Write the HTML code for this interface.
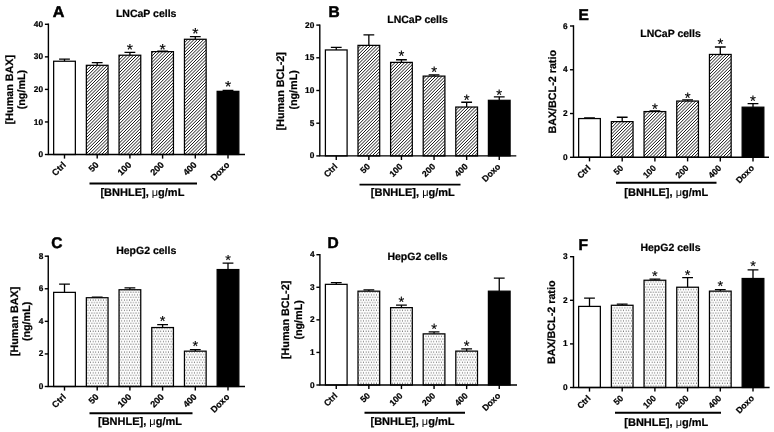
<!DOCTYPE html>
<html lang="en"><head><meta charset="utf-8"><title>Figure</title>
<style>html,body{margin:0;padding:0;background:#fff;}svg{display:block;}</style>
</head><body>
<svg width="774" height="432" viewBox="0 0 774 432" font-family='"Liberation Sans", Arial, Helvetica, sans-serif' font-weight="bold" fill="#000">
<style>text{text-rendering:geometricPrecision;stroke:#000;stroke-width:0.22px;paint-order:stroke}.ns{stroke:none}.st{stroke-width:0.15px}.lt{stroke-width:0.5px}</style>
<defs>
<pattern id="dots" width="2.6" height="5.2" patternUnits="userSpaceOnUse"><rect width="2.6" height="5.2" fill="#fff"/><circle cx="0.85" cy="0.95" r="0.55" fill="#333"/><circle cx="2.15" cy="3.55" r="0.55" fill="#333"/></pattern>
</defs>
<rect width="774" height="432" fill="#fff"/>
<g id="panel-A">
<path d="M64.50 61.24V59.13M59.10 59.13H69.90" stroke="#000" stroke-width="1.3" fill="none"/>
<rect x="53.65" y="61.24" width="21.70" height="93.26" fill="#fff" stroke="#000" stroke-width="1.25"/>
<path d="M97.20 65.31V62.71M91.80 62.71H102.60" stroke="#000" stroke-width="1.3" fill="none"/>
<clipPath id="cA1"><rect x="86.35" y="65.31" width="21.70" height="89.19"/></clipPath>
<rect x="86.35" y="65.31" width="21.70" height="89.19" fill="#fff"/>
<path clip-path="url(#cA1)" d="M85.35 65.05L109.05 41.35M85.35 68.25L109.05 44.55M85.35 71.45L109.05 47.75M85.35 74.65L109.05 50.95M85.35 77.85L109.05 54.15M85.35 81.05L109.05 57.35M85.35 84.25L109.05 60.55M85.35 87.45L109.05 63.75M85.35 90.65L109.05 66.95M85.35 93.85L109.05 70.15M85.35 97.05L109.05 73.35M85.35 100.25L109.05 76.55M85.35 103.45L109.05 79.75M85.35 106.65L109.05 82.95M85.35 109.85L109.05 86.15M85.35 113.05L109.05 89.35M85.35 116.25L109.05 92.55M85.35 119.45L109.05 95.75M85.35 122.65L109.05 98.95M85.35 125.85L109.05 102.15M85.35 129.05L109.05 105.35M85.35 132.25L109.05 108.55M85.35 135.45L109.05 111.75M85.35 138.65L109.05 114.95M85.35 141.85L109.05 118.15M85.35 145.05L109.05 121.35M85.35 148.25L109.05 124.55M85.35 151.45L109.05 127.75M85.35 154.65L109.05 130.95M85.35 157.85L109.05 134.15M85.35 161.05L109.05 137.35M85.35 164.25L109.05 140.55M85.35 167.45L109.05 143.75M85.35 170.65L109.05 146.95M85.35 173.85L109.05 150.15M85.35 177.05L109.05 153.35M85.35 180.25L109.05 156.55" stroke="#1a1a1a" stroke-width="1.0" fill="none"/>
<rect x="86.35" y="65.31" width="21.70" height="89.19" fill="none" stroke="#000" stroke-width="1.25"/>
<path d="M129.90 55.22V52.29M124.50 52.29H135.30" stroke="#000" stroke-width="1.3" fill="none"/>
<clipPath id="cA2"><rect x="119.05" y="55.22" width="21.70" height="99.28"/></clipPath>
<rect x="119.05" y="55.22" width="21.70" height="99.28" fill="#fff"/>
<path clip-path="url(#cA2)" d="M118.05 54.75L141.75 31.05M118.05 57.95L141.75 34.25M118.05 61.15L141.75 37.45M118.05 64.35L141.75 40.65M118.05 67.55L141.75 43.85M118.05 70.75L141.75 47.05M118.05 73.95L141.75 50.25M118.05 77.15L141.75 53.45M118.05 80.35L141.75 56.65M118.05 83.55L141.75 59.85M118.05 86.75L141.75 63.05M118.05 89.95L141.75 66.25M118.05 93.15L141.75 69.45M118.05 96.35L141.75 72.65M118.05 99.55L141.75 75.85M118.05 102.75L141.75 79.05M118.05 105.95L141.75 82.25M118.05 109.15L141.75 85.45M118.05 112.35L141.75 88.65M118.05 115.55L141.75 91.85M118.05 118.75L141.75 95.05M118.05 121.95L141.75 98.25M118.05 125.15L141.75 101.45M118.05 128.35L141.75 104.65M118.05 131.55L141.75 107.85M118.05 134.75L141.75 111.05M118.05 137.95L141.75 114.25M118.05 141.15L141.75 117.45M118.05 144.35L141.75 120.65M118.05 147.55L141.75 123.85M118.05 150.75L141.75 127.05M118.05 153.95L141.75 130.25M118.05 157.15L141.75 133.45M118.05 160.35L141.75 136.65M118.05 163.55L141.75 139.85M118.05 166.75L141.75 143.05M118.05 169.95L141.75 146.25M118.05 173.15L141.75 149.45M118.05 176.35L141.75 152.65M118.05 179.55L141.75 155.85" stroke="#1a1a1a" stroke-width="1.0" fill="none"/>
<rect x="119.05" y="55.22" width="21.70" height="99.28" fill="none" stroke="#000" stroke-width="1.25"/>
<text x="129.90" y="55.35" font-size="16" font-weight="normal" class="st" text-anchor="middle">*</text>
<path d="M162.60 51.64V51.15M157.20 51.15H168.00" stroke="#000" stroke-width="1.3" fill="none"/>
<clipPath id="cA3"><rect x="151.75" y="51.64" width="21.70" height="102.86"/></clipPath>
<rect x="151.75" y="51.64" width="21.70" height="102.86" fill="#fff"/>
<path clip-path="url(#cA3)" d="M150.75 50.85L174.45 27.15M150.75 54.05L174.45 30.35M150.75 57.25L174.45 33.55M150.75 60.45L174.45 36.75M150.75 63.65L174.45 39.95M150.75 66.85L174.45 43.15M150.75 70.05L174.45 46.35M150.75 73.25L174.45 49.55M150.75 76.45L174.45 52.75M150.75 79.65L174.45 55.95M150.75 82.85L174.45 59.15M150.75 86.05L174.45 62.35M150.75 89.25L174.45 65.55M150.75 92.45L174.45 68.75M150.75 95.65L174.45 71.95M150.75 98.85L174.45 75.15M150.75 102.05L174.45 78.35M150.75 105.25L174.45 81.55M150.75 108.45L174.45 84.75M150.75 111.65L174.45 87.95M150.75 114.85L174.45 91.15M150.75 118.05L174.45 94.35M150.75 121.25L174.45 97.55M150.75 124.45L174.45 100.75M150.75 127.65L174.45 103.95M150.75 130.85L174.45 107.15M150.75 134.05L174.45 110.35M150.75 137.25L174.45 113.55M150.75 140.45L174.45 116.75M150.75 143.65L174.45 119.95M150.75 146.85L174.45 123.15M150.75 150.05L174.45 126.35M150.75 153.25L174.45 129.55M150.75 156.45L174.45 132.75M150.75 159.65L174.45 135.95M150.75 162.85L174.45 139.15M150.75 166.05L174.45 142.35M150.75 169.25L174.45 145.55M150.75 172.45L174.45 148.75M150.75 175.65L174.45 151.95M150.75 178.85L174.45 155.15" stroke="#1a1a1a" stroke-width="1.0" fill="none"/>
<rect x="151.75" y="51.64" width="21.70" height="102.86" fill="none" stroke="#000" stroke-width="1.25"/>
<text x="162.60" y="54.85" font-size="16" font-weight="normal" class="st" text-anchor="middle">*</text>
<path d="M195.30 39.27V36.67M189.90 36.67H200.70" stroke="#000" stroke-width="1.3" fill="none"/>
<clipPath id="cA4"><rect x="184.45" y="39.27" width="21.70" height="115.23"/></clipPath>
<rect x="184.45" y="39.27" width="21.70" height="115.23" fill="#fff"/>
<path clip-path="url(#cA4)" d="M183.45 37.35L207.15 13.65M183.45 40.55L207.15 16.85M183.45 43.75L207.15 20.05M183.45 46.95L207.15 23.25M183.45 50.15L207.15 26.45M183.45 53.35L207.15 29.65M183.45 56.55L207.15 32.85M183.45 59.75L207.15 36.05M183.45 62.95L207.15 39.25M183.45 66.15L207.15 42.45M183.45 69.35L207.15 45.65M183.45 72.55L207.15 48.85M183.45 75.75L207.15 52.05M183.45 78.95L207.15 55.25M183.45 82.15L207.15 58.45M183.45 85.35L207.15 61.65M183.45 88.55L207.15 64.85M183.45 91.75L207.15 68.05M183.45 94.95L207.15 71.25M183.45 98.15L207.15 74.45M183.45 101.35L207.15 77.65M183.45 104.55L207.15 80.85M183.45 107.75L207.15 84.05M183.45 110.95L207.15 87.25M183.45 114.15L207.15 90.45M183.45 117.35L207.15 93.65M183.45 120.55L207.15 96.85M183.45 123.75L207.15 100.05M183.45 126.95L207.15 103.25M183.45 130.15L207.15 106.45M183.45 133.35L207.15 109.65M183.45 136.55L207.15 112.85M183.45 139.75L207.15 116.05M183.45 142.95L207.15 119.25M183.45 146.15L207.15 122.45M183.45 149.35L207.15 125.65M183.45 152.55L207.15 128.85M183.45 155.75L207.15 132.05M183.45 158.95L207.15 135.25M183.45 162.15L207.15 138.45M183.45 165.35L207.15 141.65M183.45 168.55L207.15 144.85M183.45 171.75L207.15 148.05M183.45 174.95L207.15 151.25M183.45 178.15L207.15 154.45" stroke="#1a1a1a" stroke-width="1.0" fill="none"/>
<rect x="184.45" y="39.27" width="21.70" height="115.23" fill="none" stroke="#000" stroke-width="1.25"/>
<text x="195.30" y="38.60" font-size="16" font-weight="normal" class="st" text-anchor="middle">*</text>
<path d="M228.00 91.35V90.38M222.60 90.38H233.40" stroke="#000" stroke-width="1.3" fill="none"/>
<rect x="217.15" y="91.35" width="21.70" height="63.15" fill="#000" stroke="#000" stroke-width="1.25"/>
<text x="228.00" y="92.35" font-size="16" font-weight="normal" class="st" text-anchor="middle">*</text>
<path d="M48.40 23.60V154.50H245.00" stroke="#000" stroke-width="1.4" fill="none" stroke-linejoin="miter"/>
<path d="M44.90 154.50H48.40" stroke="#000" stroke-width="1.4"/>
<text x="43.00" y="157.05" font-size="8.3" text-anchor="end">0</text>
<path d="M44.90 121.95H48.40" stroke="#000" stroke-width="1.4"/>
<text x="43.00" y="124.50" font-size="8.3" text-anchor="end">10</text>
<path d="M44.90 89.40H48.40" stroke="#000" stroke-width="1.4"/>
<text x="43.00" y="91.95" font-size="8.3" text-anchor="end">20</text>
<path d="M44.90 56.85H48.40" stroke="#000" stroke-width="1.4"/>
<text x="43.00" y="59.40" font-size="8.3" text-anchor="end">30</text>
<path d="M44.90 24.30H48.40" stroke="#000" stroke-width="1.4"/>
<text x="43.00" y="26.85" font-size="8.3" text-anchor="end">40</text>
<path d="M64.50 154.50V158.60" stroke="#000" stroke-width="1.4"/>
<text transform="translate(66.50 165.50) rotate(-45)" font-size="8.95" text-anchor="end">Ctrl</text>
<path d="M97.20 154.50V158.60" stroke="#000" stroke-width="1.4"/>
<text transform="translate(99.20 165.50) rotate(-45)" font-size="8.95" text-anchor="end">50</text>
<path d="M129.90 154.50V158.60" stroke="#000" stroke-width="1.4"/>
<text transform="translate(131.90 165.50) rotate(-45)" font-size="8.95" text-anchor="end">100</text>
<path d="M162.60 154.50V158.60" stroke="#000" stroke-width="1.4"/>
<text transform="translate(164.60 165.50) rotate(-45)" font-size="8.95" text-anchor="end">200</text>
<path d="M195.30 154.50V158.60" stroke="#000" stroke-width="1.4"/>
<text transform="translate(197.30 165.50) rotate(-45)" font-size="8.95" text-anchor="end">400</text>
<path d="M228.00 154.50V158.60" stroke="#000" stroke-width="1.4"/>
<text transform="translate(230.00 165.50) rotate(-45)" font-size="8.95" text-anchor="end">Doxo</text>
<path d="M89.5 183.5H197.0" stroke="#000" stroke-width="1.9"/>
<text x="142.4" y="195.8" font-size="11.0" text-anchor="middle">[BNHLE], <tspan font-weight="normal" class="ns">μ</tspan>g/mL</text>
<text transform="translate(13.4 89.6) rotate(-90)" font-size="10.75" text-anchor="middle">[Human BAX]</text>
<text transform="translate(25.2 89.6) rotate(-90)" font-size="10.75" text-anchor="middle">(ng/mL)</text>
<text x="146.2" y="16.9" font-size="10.5" text-anchor="middle">LNCaP cells</text>
<text class="lt" transform="translate(52.8 16.7) scale(1.04 1)" font-size="15.5">A</text>
</g>
<g id="panel-B">
<path d="M336.25 49.95V47.34M330.85 47.34H341.65" stroke="#000" stroke-width="1.3" fill="none"/>
<rect x="325.40" y="49.95" width="21.70" height="105.95" fill="#fff" stroke="#000" stroke-width="1.25"/>
<path d="M368.85 45.37V34.91M363.45 34.91H374.25" stroke="#000" stroke-width="1.3" fill="none"/>
<clipPath id="cB1"><rect x="358.00" y="45.37" width="21.70" height="110.53"/></clipPath>
<rect x="358.00" y="45.37" width="21.70" height="110.53" fill="#fff"/>
<path clip-path="url(#cB1)" d="M357.00 46.20L380.70 22.50M357.00 49.40L380.70 25.70M357.00 52.60L380.70 28.90M357.00 55.80L380.70 32.10M357.00 59.00L380.70 35.30M357.00 62.20L380.70 38.50M357.00 65.40L380.70 41.70M357.00 68.60L380.70 44.90M357.00 71.80L380.70 48.10M357.00 75.00L380.70 51.30M357.00 78.20L380.70 54.50M357.00 81.40L380.70 57.70M357.00 84.60L380.70 60.90M357.00 87.80L380.70 64.10M357.00 91.00L380.70 67.30M357.00 94.20L380.70 70.50M357.00 97.40L380.70 73.70M357.00 100.60L380.70 76.90M357.00 103.80L380.70 80.10M357.00 107.00L380.70 83.30M357.00 110.20L380.70 86.50M357.00 113.40L380.70 89.70M357.00 116.60L380.70 92.90M357.00 119.80L380.70 96.10M357.00 123.00L380.70 99.30M357.00 126.20L380.70 102.50M357.00 129.40L380.70 105.70M357.00 132.60L380.70 108.90M357.00 135.80L380.70 112.10M357.00 139.00L380.70 115.30M357.00 142.20L380.70 118.50M357.00 145.40L380.70 121.70M357.00 148.60L380.70 124.90M357.00 151.80L380.70 128.10M357.00 155.00L380.70 131.30M357.00 158.20L380.70 134.50M357.00 161.40L380.70 137.70M357.00 164.60L380.70 140.90M357.00 167.80L380.70 144.10M357.00 171.00L380.70 147.30M357.00 174.20L380.70 150.50M357.00 177.40L380.70 153.70M357.00 180.60L380.70 156.90" stroke="#1a1a1a" stroke-width="1.0" fill="none"/>
<rect x="358.00" y="45.37" width="21.70" height="110.53" fill="none" stroke="#000" stroke-width="1.25"/>
<path d="M401.45 62.38V59.76M396.05 59.76H406.85" stroke="#000" stroke-width="1.3" fill="none"/>
<clipPath id="cB2"><rect x="390.60" y="62.38" width="21.70" height="93.52"/></clipPath>
<rect x="390.60" y="62.38" width="21.70" height="93.52" fill="#fff"/>
<path clip-path="url(#cB2)" d="M389.60 61.60L413.30 37.90M389.60 64.80L413.30 41.10M389.60 68.00L413.30 44.30M389.60 71.20L413.30 47.50M389.60 74.40L413.30 50.70M389.60 77.60L413.30 53.90M389.60 80.80L413.30 57.10M389.60 84.00L413.30 60.30M389.60 87.20L413.30 63.50M389.60 90.40L413.30 66.70M389.60 93.60L413.30 69.90M389.60 96.80L413.30 73.10M389.60 100.00L413.30 76.30M389.60 103.20L413.30 79.50M389.60 106.40L413.30 82.70M389.60 109.60L413.30 85.90M389.60 112.80L413.30 89.10M389.60 116.00L413.30 92.30M389.60 119.20L413.30 95.50M389.60 122.40L413.30 98.70M389.60 125.60L413.30 101.90M389.60 128.80L413.30 105.10M389.60 132.00L413.30 108.30M389.60 135.20L413.30 111.50M389.60 138.40L413.30 114.70M389.60 141.60L413.30 117.90M389.60 144.80L413.30 121.10M389.60 148.00L413.30 124.30M389.60 151.20L413.30 127.50M389.60 154.40L413.30 130.70M389.60 157.60L413.30 133.90M389.60 160.80L413.30 137.10M389.60 164.00L413.30 140.30M389.60 167.20L413.30 143.50M389.60 170.40L413.30 146.70M389.60 173.60L413.30 149.90M389.60 176.80L413.30 153.10M389.60 180.00L413.30 156.30" stroke="#1a1a1a" stroke-width="1.0" fill="none"/>
<rect x="390.60" y="62.38" width="21.70" height="93.52" fill="none" stroke="#000" stroke-width="1.25"/>
<text x="401.45" y="61.26" font-size="15" font-weight="normal" class="st" text-anchor="middle">*</text>
<path d="M434.05 76.11V74.93M428.65 74.93H439.45" stroke="#000" stroke-width="1.3" fill="none"/>
<clipPath id="cB3"><rect x="423.20" y="76.11" width="21.70" height="79.79"/></clipPath>
<rect x="423.20" y="76.11" width="21.70" height="79.79" fill="#fff"/>
<path clip-path="url(#cB3)" d="M422.20 77.00L445.90 53.30M422.20 80.20L445.90 56.50M422.20 83.40L445.90 59.70M422.20 86.60L445.90 62.90M422.20 89.80L445.90 66.10M422.20 93.00L445.90 69.30M422.20 96.20L445.90 72.50M422.20 99.40L445.90 75.70M422.20 102.60L445.90 78.90M422.20 105.80L445.90 82.10M422.20 109.00L445.90 85.30M422.20 112.20L445.90 88.50M422.20 115.40L445.90 91.70M422.20 118.60L445.90 94.90M422.20 121.80L445.90 98.10M422.20 125.00L445.90 101.30M422.20 128.20L445.90 104.50M422.20 131.40L445.90 107.70M422.20 134.60L445.90 110.90M422.20 137.80L445.90 114.10M422.20 141.00L445.90 117.30M422.20 144.20L445.90 120.50M422.20 147.40L445.90 123.70M422.20 150.60L445.90 126.90M422.20 153.80L445.90 130.10M422.20 157.00L445.90 133.30M422.20 160.20L445.90 136.50M422.20 163.40L445.90 139.70M422.20 166.60L445.90 142.90M422.20 169.80L445.90 146.10M422.20 173.00L445.90 149.30M422.20 176.20L445.90 152.50M422.20 179.40L445.90 155.70" stroke="#1a1a1a" stroke-width="1.0" fill="none"/>
<rect x="423.20" y="76.11" width="21.70" height="79.79" fill="none" stroke="#000" stroke-width="1.25"/>
<text x="434.05" y="77.46" font-size="15" font-weight="normal" class="st" text-anchor="middle">*</text>
<path d="M466.65 107.05V102.27M461.25 102.27H472.05" stroke="#000" stroke-width="1.3" fill="none"/>
<clipPath id="cB4"><rect x="455.80" y="107.05" width="21.70" height="48.85"/></clipPath>
<rect x="455.80" y="107.05" width="21.70" height="48.85" fill="#fff"/>
<path clip-path="url(#cB4)" d="M454.80 105.20L478.50 81.50M454.80 108.40L478.50 84.70M454.80 111.60L478.50 87.90M454.80 114.80L478.50 91.10M454.80 118.00L478.50 94.30M454.80 121.20L478.50 97.50M454.80 124.40L478.50 100.70M454.80 127.60L478.50 103.90M454.80 130.80L478.50 107.10M454.80 134.00L478.50 110.30M454.80 137.20L478.50 113.50M454.80 140.40L478.50 116.70M454.80 143.60L478.50 119.90M454.80 146.80L478.50 123.10M454.80 150.00L478.50 126.30M454.80 153.20L478.50 129.50M454.80 156.40L478.50 132.70M454.80 159.60L478.50 135.90M454.80 162.80L478.50 139.10M454.80 166.00L478.50 142.30M454.80 169.20L478.50 145.50M454.80 172.40L478.50 148.70M454.80 175.60L478.50 151.90M454.80 178.80L478.50 155.10" stroke="#1a1a1a" stroke-width="1.0" fill="none"/>
<rect x="455.80" y="107.05" width="21.70" height="48.85" fill="none" stroke="#000" stroke-width="1.25"/>
<text x="466.65" y="104.86" font-size="15" font-weight="normal" class="st" text-anchor="middle">*</text>
<path d="M499.25 100.31V96.78M493.85 96.78H504.65" stroke="#000" stroke-width="1.3" fill="none"/>
<rect x="488.40" y="100.31" width="21.70" height="55.59" fill="#000" stroke="#000" stroke-width="1.25"/>
<text x="499.25" y="100.06" font-size="15" font-weight="normal" class="st" text-anchor="middle">*</text>
<path d="M319.80 24.40V155.90H516.30" stroke="#000" stroke-width="1.4" fill="none" stroke-linejoin="miter"/>
<path d="M316.30 155.90H319.80" stroke="#000" stroke-width="1.4"/>
<text x="314.30" y="158.45" font-size="8.3" text-anchor="end">0</text>
<path d="M316.30 123.20H319.80" stroke="#000" stroke-width="1.4"/>
<text x="314.30" y="125.75" font-size="8.3" text-anchor="end">5</text>
<path d="M316.30 90.50H319.80" stroke="#000" stroke-width="1.4"/>
<text x="314.30" y="93.05" font-size="8.3" text-anchor="end">10</text>
<path d="M316.30 57.80H319.80" stroke="#000" stroke-width="1.4"/>
<text x="314.30" y="60.35" font-size="8.3" text-anchor="end">15</text>
<path d="M316.30 25.10H319.80" stroke="#000" stroke-width="1.4"/>
<text x="314.30" y="27.65" font-size="8.3" text-anchor="end">20</text>
<path d="M336.25 155.90V160.00" stroke="#000" stroke-width="1.4"/>
<text transform="translate(338.05 167.10) rotate(-45)" font-size="8.75" text-anchor="end">Ctrl</text>
<path d="M368.85 155.90V160.00" stroke="#000" stroke-width="1.4"/>
<text transform="translate(370.65 167.10) rotate(-45)" font-size="8.75" text-anchor="end">50</text>
<path d="M401.45 155.90V160.00" stroke="#000" stroke-width="1.4"/>
<text transform="translate(403.25 167.10) rotate(-45)" font-size="8.75" text-anchor="end">100</text>
<path d="M434.05 155.90V160.00" stroke="#000" stroke-width="1.4"/>
<text transform="translate(435.85 167.10) rotate(-45)" font-size="8.75" text-anchor="end">200</text>
<path d="M466.65 155.90V160.00" stroke="#000" stroke-width="1.4"/>
<text transform="translate(468.45 167.10) rotate(-45)" font-size="8.75" text-anchor="end">400</text>
<path d="M499.25 155.90V160.00" stroke="#000" stroke-width="1.4"/>
<text transform="translate(501.05 167.10) rotate(-45)" font-size="8.75" text-anchor="end">Doxo</text>
<path d="M359.5 184.6H460.5" stroke="#000" stroke-width="1.9"/>
<text x="412.8" y="196.4" font-size="11.0" text-anchor="middle">[BNHLE], <tspan font-weight="normal" class="ns">μ</tspan>g/mL</text>
<text transform="translate(283.7 91.2) rotate(-90)" font-size="10.75" text-anchor="middle">[Human BCL-2]</text>
<text transform="translate(296.8 89.9) rotate(-90)" font-size="10.75" text-anchor="middle">(ng/mL)</text>
<text x="417.5" y="23.0" font-size="10.5" text-anchor="middle">LNCaP cells</text>
<text class="lt" transform="translate(328.6 16.7) scale(1.0 1)" font-size="15.5">B</text>
</g>
<g id="panel-E">
<path d="M589.50 118.57V118.02M584.10 118.02H594.90" stroke="#000" stroke-width="1.3" fill="none"/>
<rect x="578.65" y="118.57" width="21.70" height="38.73" fill="#fff" stroke="#000" stroke-width="1.25"/>
<path d="M622.20 121.63V117.25M616.80 117.25H627.60" stroke="#000" stroke-width="1.3" fill="none"/>
<clipPath id="cE1"><rect x="611.35" y="121.63" width="21.70" height="35.67"/></clipPath>
<rect x="611.35" y="121.63" width="21.70" height="35.67" fill="#fff"/>
<path clip-path="url(#cE1)" d="M610.35 122.45L634.05 98.75M610.35 125.65L634.05 101.95M610.35 128.85L634.05 105.15M610.35 132.05L634.05 108.35M610.35 135.25L634.05 111.55M610.35 138.45L634.05 114.75M610.35 141.65L634.05 117.95M610.35 144.85L634.05 121.15M610.35 148.05L634.05 124.35M610.35 151.25L634.05 127.55M610.35 154.45L634.05 130.75M610.35 157.65L634.05 133.95M610.35 160.85L634.05 137.15M610.35 164.05L634.05 140.35M610.35 167.25L634.05 143.55M610.35 170.45L634.05 146.75M610.35 173.65L634.05 149.95M610.35 176.85L634.05 153.15M610.35 180.05L634.05 156.35" stroke="#1a1a1a" stroke-width="1.0" fill="none"/>
<rect x="611.35" y="121.63" width="21.70" height="35.67" fill="none" stroke="#000" stroke-width="1.25"/>
<path d="M654.90 111.56V110.91M649.50 110.91H660.30" stroke="#000" stroke-width="1.3" fill="none"/>
<clipPath id="cE2"><rect x="644.05" y="111.56" width="21.70" height="45.74"/></clipPath>
<rect x="644.05" y="111.56" width="21.70" height="45.74" fill="#fff"/>
<path clip-path="url(#cE2)" d="M643.05 112.15L666.75 88.45M643.05 115.35L666.75 91.65M643.05 118.55L666.75 94.85M643.05 121.75L666.75 98.05M643.05 124.95L666.75 101.25M643.05 128.15L666.75 104.45M643.05 131.35L666.75 107.65M643.05 134.55L666.75 110.85M643.05 137.75L666.75 114.05M643.05 140.95L666.75 117.25M643.05 144.15L666.75 120.45M643.05 147.35L666.75 123.65M643.05 150.55L666.75 126.85M643.05 153.75L666.75 130.05M643.05 156.95L666.75 133.25M643.05 160.15L666.75 136.45M643.05 163.35L666.75 139.65M643.05 166.55L666.75 142.85M643.05 169.75L666.75 146.05M643.05 172.95L666.75 149.25M643.05 176.15L666.75 152.45M643.05 179.35L666.75 155.65M643.05 182.55L666.75 158.85" stroke="#1a1a1a" stroke-width="1.0" fill="none"/>
<rect x="644.05" y="111.56" width="21.70" height="45.74" fill="none" stroke="#000" stroke-width="1.25"/>
<text x="654.90" y="113.66" font-size="15" font-weight="normal" class="st" text-anchor="middle">*</text>
<path d="M687.60 101.06V99.97M682.20 99.97H693.00" stroke="#000" stroke-width="1.3" fill="none"/>
<clipPath id="cE3"><rect x="676.75" y="101.06" width="21.70" height="56.24"/></clipPath>
<rect x="676.75" y="101.06" width="21.70" height="56.24" fill="#fff"/>
<path clip-path="url(#cE3)" d="M675.75 101.85L699.45 78.15M675.75 105.05L699.45 81.35M675.75 108.25L699.45 84.55M675.75 111.45L699.45 87.75M675.75 114.65L699.45 90.95M675.75 117.85L699.45 94.15M675.75 121.05L699.45 97.35M675.75 124.25L699.45 100.55M675.75 127.45L699.45 103.75M675.75 130.65L699.45 106.95M675.75 133.85L699.45 110.15M675.75 137.05L699.45 113.35M675.75 140.25L699.45 116.55M675.75 143.45L699.45 119.75M675.75 146.65L699.45 122.95M675.75 149.85L699.45 126.15M675.75 153.05L699.45 129.35M675.75 156.25L699.45 132.55M675.75 159.45L699.45 135.75M675.75 162.65L699.45 138.95M675.75 165.85L699.45 142.15M675.75 169.05L699.45 145.35M675.75 172.25L699.45 148.55M675.75 175.45L699.45 151.75M675.75 178.65L699.45 154.95M675.75 181.85L699.45 158.15" stroke="#1a1a1a" stroke-width="1.0" fill="none"/>
<rect x="676.75" y="101.06" width="21.70" height="56.24" fill="none" stroke="#000" stroke-width="1.25"/>
<text x="687.60" y="102.76" font-size="15" font-weight="normal" class="st" text-anchor="middle">*</text>
<path d="M720.30 54.45V47.01M714.90 47.01H725.70" stroke="#000" stroke-width="1.3" fill="none"/>
<clipPath id="cE4"><rect x="709.45" y="54.45" width="21.70" height="102.85"/></clipPath>
<rect x="709.45" y="54.45" width="21.70" height="102.85" fill="#fff"/>
<path clip-path="url(#cE4)" d="M708.45 53.15L732.15 29.45M708.45 56.35L732.15 32.65M708.45 59.55L732.15 35.85M708.45 62.75L732.15 39.05M708.45 65.95L732.15 42.25M708.45 69.15L732.15 45.45M708.45 72.35L732.15 48.65M708.45 75.55L732.15 51.85M708.45 78.75L732.15 55.05M708.45 81.95L732.15 58.25M708.45 85.15L732.15 61.45M708.45 88.35L732.15 64.65M708.45 91.55L732.15 67.85M708.45 94.75L732.15 71.05M708.45 97.95L732.15 74.25M708.45 101.15L732.15 77.45M708.45 104.35L732.15 80.65M708.45 107.55L732.15 83.85M708.45 110.75L732.15 87.05M708.45 113.95L732.15 90.25M708.45 117.15L732.15 93.45M708.45 120.35L732.15 96.65M708.45 123.55L732.15 99.85M708.45 126.75L732.15 103.05M708.45 129.95L732.15 106.25M708.45 133.15L732.15 109.45M708.45 136.35L732.15 112.65M708.45 139.55L732.15 115.85M708.45 142.75L732.15 119.05M708.45 145.95L732.15 122.25M708.45 149.15L732.15 125.45M708.45 152.35L732.15 128.65M708.45 155.55L732.15 131.85M708.45 158.75L732.15 135.05M708.45 161.95L732.15 138.25M708.45 165.15L732.15 141.45M708.45 168.35L732.15 144.65M708.45 171.55L732.15 147.85M708.45 174.75L732.15 151.05M708.45 177.95L732.15 154.25M708.45 181.15L732.15 157.45" stroke="#1a1a1a" stroke-width="1.0" fill="none"/>
<rect x="709.45" y="54.45" width="21.70" height="102.85" fill="none" stroke="#000" stroke-width="1.25"/>
<text x="720.30" y="49.46" font-size="15" font-weight="normal" class="st" text-anchor="middle">*</text>
<path d="M753.00 107.19V103.69M747.60 103.69H758.40" stroke="#000" stroke-width="1.3" fill="none"/>
<rect x="742.15" y="107.19" width="21.70" height="50.11" fill="#000" stroke="#000" stroke-width="1.25"/>
<text x="753.00" y="105.76" font-size="15" font-weight="normal" class="st" text-anchor="middle">*</text>
<path d="M573.50 25.30V157.30H769.00" stroke="#000" stroke-width="1.4" fill="none" stroke-linejoin="miter"/>
<path d="M570.00 157.30H573.50" stroke="#000" stroke-width="1.4"/>
<text x="567.70" y="159.85" font-size="8.3" text-anchor="end">0</text>
<path d="M570.00 113.53H573.50" stroke="#000" stroke-width="1.4"/>
<text x="567.70" y="116.08" font-size="8.3" text-anchor="end">2</text>
<path d="M570.00 69.77H573.50" stroke="#000" stroke-width="1.4"/>
<text x="567.70" y="72.32" font-size="8.3" text-anchor="end">4</text>
<path d="M570.00 26.00H573.50" stroke="#000" stroke-width="1.4"/>
<text x="567.70" y="28.55" font-size="8.3" text-anchor="end">6</text>
<path d="M589.50 157.30V161.40" stroke="#000" stroke-width="1.4"/>
<text transform="translate(591.15 168.65) rotate(-45)" font-size="8.6" text-anchor="end">Ctrl</text>
<path d="M622.20 157.30V161.40" stroke="#000" stroke-width="1.4"/>
<text transform="translate(623.85 168.65) rotate(-45)" font-size="8.6" text-anchor="end">50</text>
<path d="M654.90 157.30V161.40" stroke="#000" stroke-width="1.4"/>
<text transform="translate(656.55 168.65) rotate(-45)" font-size="8.6" text-anchor="end">100</text>
<path d="M687.60 157.30V161.40" stroke="#000" stroke-width="1.4"/>
<text transform="translate(689.25 168.65) rotate(-45)" font-size="8.6" text-anchor="end">200</text>
<path d="M720.30 157.30V161.40" stroke="#000" stroke-width="1.4"/>
<text transform="translate(721.95 168.65) rotate(-45)" font-size="8.6" text-anchor="end">400</text>
<path d="M753.00 157.30V161.40" stroke="#000" stroke-width="1.4"/>
<text transform="translate(754.65 168.65) rotate(-45)" font-size="8.6" text-anchor="end">Doxo</text>
<path d="M616.0 182.8H716.5" stroke="#000" stroke-width="1.9"/>
<text x="666.3" y="195.8" font-size="11.0" text-anchor="middle">[BNHLE], <tspan font-weight="normal" class="ns">μ</tspan>g/mL</text>
<text transform="translate(555.6 91.8) rotate(-90)" font-size="10.75" text-anchor="middle">BAX/BCL-2 ratio</text>
<text x="670.5" y="36.8" font-size="10.5" text-anchor="middle">LNCaP cells</text>
<text class="lt" transform="translate(578.6 20.4) scale(1.0 1)" font-size="15.5">E</text>
</g>
<g id="panel-C">
<path d="M64.50 292.36V284.21M59.10 284.21H69.90" stroke="#000" stroke-width="1.3" fill="none"/>
<rect x="53.65" y="292.36" width="21.70" height="94.14" fill="#fff" stroke="#000" stroke-width="1.25"/>
<path d="M97.20 297.73V297.08M91.80 297.08H102.60" stroke="#000" stroke-width="1.3" fill="none"/>
<rect x="86.35" y="297.73" width="21.70" height="88.77" fill="url(#dots)" stroke="#000" stroke-width="1.25"/>
<path d="M129.90 289.75V287.96M124.50 287.96H135.30" stroke="#000" stroke-width="1.3" fill="none"/>
<rect x="119.05" y="289.75" width="21.70" height="96.75" fill="url(#dots)" stroke="#000" stroke-width="1.25"/>
<path d="M162.60 327.54V324.61M157.20 324.61H168.00" stroke="#000" stroke-width="1.3" fill="none"/>
<rect x="151.75" y="327.54" width="21.70" height="58.96" fill="url(#dots)" stroke="#000" stroke-width="1.25"/>
<text x="162.60" y="325.99" font-size="14.5" font-weight="normal" class="st" text-anchor="middle">*</text>
<path d="M195.30 351.16V349.69M189.90 349.69H200.70" stroke="#000" stroke-width="1.3" fill="none"/>
<rect x="184.45" y="351.16" width="21.70" height="35.34" fill="url(#dots)" stroke="#000" stroke-width="1.25"/>
<text x="195.30" y="350.79" font-size="14.5" font-weight="normal" class="st" text-anchor="middle">*</text>
<path d="M228.00 269.56V263.20M222.60 263.20H233.40" stroke="#000" stroke-width="1.3" fill="none"/>
<rect x="217.15" y="269.56" width="21.70" height="116.94" fill="#000" stroke="#000" stroke-width="1.25"/>
<text x="228.00" y="264.79" font-size="14.5" font-weight="normal" class="st" text-anchor="middle">*</text>
<path d="M48.25 255.50V386.50H245.00" stroke="#000" stroke-width="1.4" fill="none" stroke-linejoin="miter"/>
<path d="M44.75 386.50H48.25" stroke="#000" stroke-width="1.4"/>
<text x="43.25" y="389.05" font-size="8.3" text-anchor="end">0</text>
<path d="M44.75 353.93H48.25" stroke="#000" stroke-width="1.4"/>
<text x="43.25" y="356.48" font-size="8.3" text-anchor="end">2</text>
<path d="M44.75 321.35H48.25" stroke="#000" stroke-width="1.4"/>
<text x="43.25" y="323.90" font-size="8.3" text-anchor="end">4</text>
<path d="M44.75 288.77H48.25" stroke="#000" stroke-width="1.4"/>
<text x="43.25" y="291.32" font-size="8.3" text-anchor="end">6</text>
<path d="M44.75 256.20H48.25" stroke="#000" stroke-width="1.4"/>
<text x="43.25" y="258.75" font-size="8.3" text-anchor="end">8</text>
<path d="M64.50 386.50V390.60" stroke="#000" stroke-width="1.4"/>
<text transform="translate(66.50 397.50) rotate(-45)" font-size="8.95" text-anchor="end">Ctrl</text>
<path d="M97.20 386.50V390.60" stroke="#000" stroke-width="1.4"/>
<text transform="translate(99.20 397.50) rotate(-45)" font-size="8.95" text-anchor="end">50</text>
<path d="M129.90 386.50V390.60" stroke="#000" stroke-width="1.4"/>
<text transform="translate(131.90 397.50) rotate(-45)" font-size="8.95" text-anchor="end">100</text>
<path d="M162.60 386.50V390.60" stroke="#000" stroke-width="1.4"/>
<text transform="translate(164.60 397.50) rotate(-45)" font-size="8.95" text-anchor="end">200</text>
<path d="M195.30 386.50V390.60" stroke="#000" stroke-width="1.4"/>
<text transform="translate(197.30 397.50) rotate(-45)" font-size="8.95" text-anchor="end">400</text>
<path d="M228.00 386.50V390.60" stroke="#000" stroke-width="1.4"/>
<text transform="translate(230.00 397.50) rotate(-45)" font-size="8.95" text-anchor="end">Doxo</text>
<path d="M89.5 413.2H192.5" stroke="#000" stroke-width="1.9"/>
<text x="140.0" y="425.2" font-size="11.0" text-anchor="middle">[BNHLE], <tspan font-weight="normal" class="ns">μ</tspan>g/mL</text>
<text transform="translate(18.0 321.4) rotate(-90)" font-size="10.75" text-anchor="middle">[Human BAX]</text>
<text transform="translate(30.0 321.4) rotate(-90)" font-size="10.75" text-anchor="middle">(ng/mL)</text>
<text x="146.2" y="253.9" font-size="10.5" text-anchor="middle">HepG2 cells</text>
<text class="lt" transform="translate(51.2 248.1) scale(1.0 1)" font-size="15.5">C</text>
</g>
<g id="panel-D">
<path d="M336.25 284.34V282.71M330.85 282.71H341.65" stroke="#000" stroke-width="1.3" fill="none"/>
<rect x="325.40" y="284.34" width="21.70" height="100.66" fill="#fff" stroke="#000" stroke-width="1.25"/>
<path d="M368.85 291.18V289.88M363.45 289.88H374.25" stroke="#000" stroke-width="1.3" fill="none"/>
<rect x="358.00" y="291.18" width="21.70" height="93.82" fill="url(#dots)" stroke="#000" stroke-width="1.25"/>
<path d="M401.45 307.63V305.19M396.05 305.19H406.85" stroke="#000" stroke-width="1.3" fill="none"/>
<rect x="390.60" y="307.63" width="21.70" height="77.37" fill="url(#dots)" stroke="#000" stroke-width="1.25"/>
<text x="401.45" y="307.36" font-size="14.8" font-weight="normal" class="st" text-anchor="middle">*</text>
<path d="M434.05 333.86V331.90M428.65 331.90H439.45" stroke="#000" stroke-width="1.3" fill="none"/>
<rect x="423.20" y="333.86" width="21.70" height="51.14" fill="url(#dots)" stroke="#000" stroke-width="1.25"/>
<text x="434.05" y="333.56" font-size="14.8" font-weight="normal" class="st" text-anchor="middle">*</text>
<path d="M466.65 351.12V348.84M461.25 348.84H472.05" stroke="#000" stroke-width="1.3" fill="none"/>
<rect x="455.80" y="351.12" width="21.70" height="33.88" fill="url(#dots)" stroke="#000" stroke-width="1.25"/>
<text x="466.65" y="351.06" font-size="14.8" font-weight="normal" class="st" text-anchor="middle">*</text>
<path d="M499.25 291.18V278.15M493.85 278.15H504.65" stroke="#000" stroke-width="1.3" fill="none"/>
<rect x="488.40" y="291.18" width="21.70" height="93.82" fill="#000" stroke="#000" stroke-width="1.25"/>
<path d="M319.90 254.00V385.00H517.00" stroke="#000" stroke-width="1.4" fill="none" stroke-linejoin="miter"/>
<path d="M316.40 385.00H319.90" stroke="#000" stroke-width="1.4"/>
<text x="314.50" y="387.55" font-size="8.3" text-anchor="end">0</text>
<path d="M316.40 352.43H319.90" stroke="#000" stroke-width="1.4"/>
<text x="314.50" y="354.98" font-size="8.3" text-anchor="end">1</text>
<path d="M316.40 319.85H319.90" stroke="#000" stroke-width="1.4"/>
<text x="314.50" y="322.40" font-size="8.3" text-anchor="end">2</text>
<path d="M316.40 287.27H319.90" stroke="#000" stroke-width="1.4"/>
<text x="314.50" y="289.82" font-size="8.3" text-anchor="end">3</text>
<path d="M316.40 254.70H319.90" stroke="#000" stroke-width="1.4"/>
<text x="314.50" y="257.25" font-size="8.3" text-anchor="end">4</text>
<path d="M336.25 385.00V389.10" stroke="#000" stroke-width="1.4"/>
<text transform="translate(338.00 396.25) rotate(-45)" font-size="8.7" text-anchor="end">Ctrl</text>
<path d="M368.85 385.00V389.10" stroke="#000" stroke-width="1.4"/>
<text transform="translate(370.60 396.25) rotate(-45)" font-size="8.7" text-anchor="end">50</text>
<path d="M401.45 385.00V389.10" stroke="#000" stroke-width="1.4"/>
<text transform="translate(403.20 396.25) rotate(-45)" font-size="8.7" text-anchor="end">100</text>
<path d="M434.05 385.00V389.10" stroke="#000" stroke-width="1.4"/>
<text transform="translate(435.80 396.25) rotate(-45)" font-size="8.7" text-anchor="end">200</text>
<path d="M466.65 385.00V389.10" stroke="#000" stroke-width="1.4"/>
<text transform="translate(468.40 396.25) rotate(-45)" font-size="8.7" text-anchor="end">400</text>
<path d="M499.25 385.00V389.10" stroke="#000" stroke-width="1.4"/>
<text transform="translate(501.00 396.25) rotate(-45)" font-size="8.7" text-anchor="end">Doxo</text>
<path d="M364.5 412.8H465.0" stroke="#000" stroke-width="1.9"/>
<text x="412.5" y="425.0" font-size="11.0" text-anchor="middle">[BNHLE], <tspan font-weight="normal" class="ns">μ</tspan>g/mL</text>
<text transform="translate(289.0 319.9) rotate(-90)" font-size="10.75" text-anchor="middle">[Human BCL-2]</text>
<text transform="translate(302.0 319.9) rotate(-90)" font-size="10.75" text-anchor="middle">(ng/mL)</text>
<text x="417.5" y="260.2" font-size="10.5" text-anchor="middle">HepG2 cells</text>
<text class="lt" transform="translate(327.6 248.1) scale(1.0 1)" font-size="15.5">D</text>
</g>
<g id="panel-F">
<path d="M589.50 306.40V298.12M584.10 298.12H594.90" stroke="#000" stroke-width="1.3" fill="none"/>
<rect x="578.65" y="306.40" width="21.70" height="81.10" fill="#fff" stroke="#000" stroke-width="1.25"/>
<path d="M622.20 305.27V304.22M616.80 304.22H627.60" stroke="#000" stroke-width="1.3" fill="none"/>
<rect x="611.35" y="305.27" width="21.70" height="82.23" fill="url(#dots)" stroke="#000" stroke-width="1.25"/>
<path d="M654.90 280.24V279.15M649.50 279.15H660.30" stroke="#000" stroke-width="1.3" fill="none"/>
<rect x="644.05" y="280.24" width="21.70" height="107.26" fill="url(#dots)" stroke="#000" stroke-width="1.25"/>
<text x="654.90" y="281.04" font-size="14.5" font-weight="normal" class="st" text-anchor="middle">*</text>
<path d="M687.60 287.22V277.63M682.20 277.63H693.00" stroke="#000" stroke-width="1.3" fill="none"/>
<rect x="676.75" y="287.22" width="21.70" height="100.28" fill="url(#dots)" stroke="#000" stroke-width="1.25"/>
<text x="687.60" y="280.24" font-size="14.5" font-weight="normal" class="st" text-anchor="middle">*</text>
<path d="M720.30 291.14V289.62M714.90 289.62H725.70" stroke="#000" stroke-width="1.3" fill="none"/>
<rect x="709.45" y="291.14" width="21.70" height="96.36" fill="url(#dots)" stroke="#000" stroke-width="1.25"/>
<text x="720.30" y="291.44" font-size="14.5" font-weight="normal" class="st" text-anchor="middle">*</text>
<path d="M753.00 278.50V269.78M747.60 269.78H758.40" stroke="#000" stroke-width="1.3" fill="none"/>
<rect x="742.15" y="278.50" width="21.70" height="109.00" fill="#000" stroke="#000" stroke-width="1.25"/>
<text x="753.00" y="271.04" font-size="14.5" font-weight="normal" class="st" text-anchor="middle">*</text>
<path d="M573.50 256.00V387.50H769.60" stroke="#000" stroke-width="1.4" fill="none" stroke-linejoin="miter"/>
<path d="M570.00 387.50H573.50" stroke="#000" stroke-width="1.4"/>
<text x="567.70" y="390.05" font-size="8.3" text-anchor="end">0</text>
<path d="M570.00 343.90H573.50" stroke="#000" stroke-width="1.4"/>
<text x="567.70" y="346.45" font-size="8.3" text-anchor="end">1</text>
<path d="M570.00 300.30H573.50" stroke="#000" stroke-width="1.4"/>
<text x="567.70" y="302.85" font-size="8.3" text-anchor="end">2</text>
<path d="M570.00 256.70H573.50" stroke="#000" stroke-width="1.4"/>
<text x="567.70" y="259.25" font-size="8.3" text-anchor="end">3</text>
<path d="M589.50 387.50V391.60" stroke="#000" stroke-width="1.4"/>
<text transform="translate(591.15 398.85) rotate(-45)" font-size="8.6" text-anchor="end">Ctrl</text>
<path d="M622.20 387.50V391.60" stroke="#000" stroke-width="1.4"/>
<text transform="translate(623.85 398.85) rotate(-45)" font-size="8.6" text-anchor="end">50</text>
<path d="M654.90 387.50V391.60" stroke="#000" stroke-width="1.4"/>
<text transform="translate(656.55 398.85) rotate(-45)" font-size="8.6" text-anchor="end">100</text>
<path d="M687.60 387.50V391.60" stroke="#000" stroke-width="1.4"/>
<text transform="translate(689.25 398.85) rotate(-45)" font-size="8.6" text-anchor="end">200</text>
<path d="M720.30 387.50V391.60" stroke="#000" stroke-width="1.4"/>
<text transform="translate(721.95 398.85) rotate(-45)" font-size="8.6" text-anchor="end">400</text>
<path d="M753.00 387.50V391.60" stroke="#000" stroke-width="1.4"/>
<text transform="translate(754.65 398.85) rotate(-45)" font-size="8.6" text-anchor="end">Doxo</text>
<path d="M615.0 412.8H721.0" stroke="#000" stroke-width="1.9"/>
<text x="666.3" y="426.0" font-size="11.0" text-anchor="middle">[BNHLE], <tspan font-weight="normal" class="ns">μ</tspan>g/mL</text>
<text transform="translate(555.4 322.3) rotate(-90)" font-size="10.75" text-anchor="middle">BAX/BCL-2 ratio</text>
<text x="670.5" y="251.0" font-size="10.5" text-anchor="middle">HepG2 cells</text>
<text class="lt" transform="translate(578.6 250.4) scale(1.0 1)" font-size="15.5">F</text>
</g>
</svg>
</body></html>
